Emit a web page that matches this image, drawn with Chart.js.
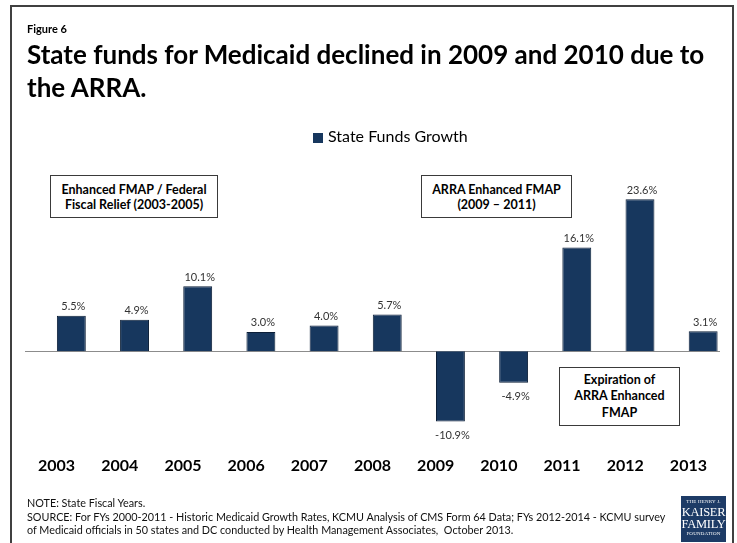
<!DOCTYPE html>
<html>
<head>
<meta charset="utf-8">
<title>State funds for Medicaid</title>
<script src="https://cdn.jsdelivr.net/npm/chart.js@4.4.1/dist/chart.umd.min.js"></script>
<style>
  html, body { margin: 0; padding: 0; background: #fff; }
  body { width: 737px; height: 543px; position: relative; overflow: hidden; font-family: Lato, "Open Sans", sans-serif; color: #000; }
  #frame { position: absolute; left: 10px; top: 5px; width: 720px; height: 560px; border: 2px solid #404040; }
  #chart { position: absolute; left: 0; top: 0; }
  .abs { position: absolute; }
  #fig { left: 27px; top: 22px; font-size: 11px; font-weight: bold; }
  #title { left: 27px; top: 38px; width: 690px; font-size: 26px; font-weight: bold; line-height: 33px; }
  #legend { left: 313px; top: 126px; font-size: 16px; line-height: 20px; white-space: nowrap; }
  #legend i { display: inline-block; width: 10px; height: 10px; background: #17375e; margin-right: 5px; vertical-align: -1px; }
  .note-box { position: absolute; border: 1px solid #3a3a3a; background: #fff; box-sizing: border-box;
              display: flex; align-items: center; justify-content: center; text-align: center;
              font-weight: bold; font-size: 12.5px; line-height: 15px; }
  #notes { left: 27px; top: 496px; font-size: 10.8px; line-height: 13.5px; color: #111; }
  #logo { left: 681px; top: 496px; width: 45px; height: 46px; background: #1d3b66; color: #fff;
          font-family: "Liberation Serif", "DejaVu Serif", serif; text-align: center; white-space: nowrap; }
  #logo .s { font-size: 5px; line-height: 8px; letter-spacing: 0.2px; padding-top: 2px; }
  #logo .b { font-size: 12.5px; line-height: 12px; letter-spacing: -0.3px; }
</style>
</head>
<body>
<div id="frame"></div>
<canvas id="chart" width="737" height="543"></canvas>

<div class="abs" id="fig">Figure 6</div>
<div class="abs" id="title">State funds for Medicaid declined in 2009 and 2010 due to the ARRA.</div>
<div class="abs" id="legend"><i></i>State Funds Growth</div>

<div class="note-box" style="left:50px; top:175px; width:168px; height:43px;">Enhanced FMAP / Federal<br>Fiscal Relief (2003-2005)</div>
<div class="note-box" style="left:421px; top:175px; width:151px; height:43px;">ARRA Enhanced FMAP<br>(2009 &ndash; 2011)</div>
<div class="note-box" style="left:559px; top:367px; width:121px; height:59px; line-height:16.5px;">Expiration of<br>ARRA Enhanced<br>FMAP</div>

<div class="abs" id="notes">NOTE: State Fiscal Years.<br>SOURCE: For FYs 2000-2011 - Historic Medicaid Growth Rates, KCMU Analysis of CMS Form 64 Data; FYs 2012-2014 - KCMU survey<br>of Medicaid officials in 50 states and DC conducted by Health Management Associates,&nbsp; October 2013.</div>

<div class="abs" id="logo"><div class="s">THE HENRY J.</div><div class="b">KAISER</div><div class="b">FAMILY</div><div class="s" style="padding-top:0">FOUNDATION</div></div>

<script>
// state fiscal years and growth in state Medicaid funds (%)
const years = ['2003', '2004', '2005', '2006', '2007', '2008', '2009', '2010', '2011', '2012', '2013'];
const stateFundsGrowth = [5.5, 4.9, 10.1, 3.0, 4.0, 5.7, -10.9, -4.9, 16.1, 23.6, 3.1];

const BAR_COLOR = '#17375e';

// percent labels at the outer end of each bar
const valueLabels = {
    id: 'valueLabels',
    afterDatasetsDraw(chart) {
        const meta = chart.getDatasetMeta(1);
        const ctx = chart.ctx;
        ctx.save();
        ctx.font = '11px Lato, "Open Sans", sans-serif';
        ctx.fillStyle = '#333';
        ctx.textAlign = 'center';
        ctx.textBaseline = 'middle';
        meta.data.forEach((bar, i) => {
            const v = stateFundsGrowth[i];
            const y = v >= 0 ? bar.y - 9 : bar.y + 14;
            ctx.fillText(v.toFixed(1) + '%', bar.x + 2, y);
        });
        ctx.restore();
    },
};

// zero baseline across the plot
const zeroLine = {
    id: 'zeroLine',
    beforeDatasetsDraw(chart) {
        const { ctx, chartArea, scales } = chart;
        const y = Math.round(scales.y.getPixelForValue(0)) + 0.5;
        ctx.save();
        ctx.strokeStyle = '#8c8c8c';
        ctx.lineWidth = 1;
        ctx.beginPath();
        ctx.moveTo(chartArea.left, y);
        ctx.lineTo(chartArea.right, y);
        ctx.stroke();
        ctx.restore();
    },
};

new Chart(document.getElementById('chart'), {
    type: 'bar',
    data: {
        labels: years,
        datasets: [
            // empty first series, so the real bars sit in the right half of each slot
            { label: '', data: [] },
            {
                label: 'State Funds Growth',
                data: stateFundsGrowth,
                backgroundColor: BAR_COLOR,
                borderColor: '#0c1f38',
                borderWidth: 1,
            },
        ],
    },
    options: {
        responsive: false,
        animation: false,
        layout: { padding: { left: 25, right: 17, top: 171, bottom: 60 } },
        datasets: { bar: { categoryPercentage: 0.934, barPercentage: 0.98 } },
        plugins: {
            legend: { display: false },
            tooltip: { enabled: false },
        },
        scales: {
            x: {
                grid: { display: false, drawTicks: false },
                border: { display: false },
                ticks: {
                    color: '#000',
                    padding: 8,
                    maxRotation: 0,
                    autoSkip: false,
                    font: { family: 'Lato, "Open Sans", sans-serif', size: 16, weight: 'bold' },
                },
            },
            y: { display: false, min: -15, max: 28 },
        },
    },
    plugins: [zeroLine, valueLabels],
});
</script>
</body>
</html>
